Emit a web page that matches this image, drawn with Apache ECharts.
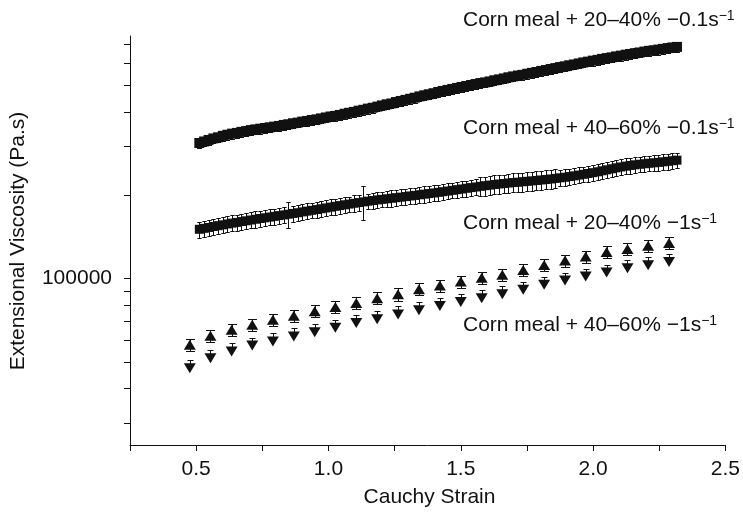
<!DOCTYPE html>
<html>
<head>
<meta charset="utf-8">
<script src="https://cdn.jsdelivr.net/npm/echarts@6/dist/echarts.min.js"></script>
<style>
  html, body { margin: 0; padding: 0; background: #ffffff; }
  #chart { width: 743px; height: 515px; }
</style>
</head>
<body>
<div id="chart"></div>
<script>
// Cauchy strain of the 0.1 s^-1 runs (dense sampling)
const strainSlow = [
  0.512,0.530,0.547,0.565,0.583,0.601,0.618,0.636,0.654,0.671,
  0.689,0.707,0.724,0.742,0.760,0.778,0.795,0.813,0.831,0.848,
  0.866,0.884,0.901,0.919,0.937,0.955,0.972,0.990,1.008,1.025,
  1.043,1.061,1.078,1.096,1.114,1.132,1.149,1.167,1.185,1.202,
  1.220,1.238,1.255,1.273,1.291,1.309,1.326,1.344,1.362,1.379,
  1.397,1.415,1.432,1.450,1.468,1.486,1.503,1.521,1.539,1.556,
  1.574,1.592,1.609,1.627,1.645,1.663,1.680,1.698,1.716,1.733,
  1.751,1.769,1.786,1.804,1.822,1.840,1.857,1.875,1.893,1.910,
  1.928,1.946,1.963,1.981,1.999,2.017,2.034,2.052,2.070,2.087,
  2.105,2.123,2.140,2.158,2.176,2.194,2.211,2.229,2.247,2.264,
  2.282,2.300,2.317
];

// Corn meal + 20–40 %, 0.1 s^-1: extensional viscosity (Pa.s) and its SD
const visc2040Slow = [
  308000,312000,316000,320000,323000,327000,330000,333000,335000,338000,
  340000,343000,345000,347000,349000,351000,353000,355000,358000,360000,
  363000,365000,368000,370000,373000,375000,378000,381000,384000,386000,
  389000,393000,396000,399000,403000,406000,410000,413000,417000,421000,
  425000,428000,433000,437000,441000,445000,449000,454000,458000,462000,
  466000,471000,475000,479000,483000,487000,491000,495000,499000,503000,
  507000,510000,514000,519000,523000,527000,532000,536000,540000,543000,
  548000,552000,556000,561000,565000,570000,574000,579000,583000,588000,
  592000,597000,602000,606000,611000,615000,620000,624000,628000,633000,
  637000,642000,646000,650000,654000,659000,663000,666000,670000,674000,
  678000,682000,685000
];
const err2040Slow = [
  12500,12500,12500,13000,13000,13000,13000,13500,13500,13500,
  13500,13500,14000,14000,14000,14000,14000,14000,14500,14500,
  14500,14500,14500,15000,15000,15000,15000,15000,15500,15500,
  15500,15500,16000,16000,16000,16000,16500,16500,16500,17000,
  17000,17000,17500,17500,17500,18000,18000,18000,18500,18500,
  18500,19000,19000,19000,19500,19500,19500,20000,20000,20000,
  20500,20500,20500,21000,21000,21000,21500,21500,21500,21500,
  22000,22000,22000,22500,22500,23000,23000,23000,23500,23500,
  23500,24000,24000,24000,24500,24500,25000,25000,25000,25500,
  25500,25500,26000,26000,26000,26500,26500,26500,27000,27000,
  27000,27500,27500
];

// Corn meal + 40–60 %, 0.1 s^-1
const visc4060Slow = [
  150300,151500,152600,153800,154900,156000,157100,158200,159200,160300,
  161300,162400,163400,164400,165400,166400,167400,168400,169400,170400,
  171500,172500,173700,174800,176000,177100,178300,179500,180700,181900,
  183100,184300,185400,186600,187700,188800,189900,190900,191900,192800,
  193700,194600,195500,196400,197300,198300,199200,200300,201300,202300,
  203300,204400,205500,206600,207800,209000,210200,211400,212600,213700,
  214900,216000,217100,218100,219100,220000,220900,221700,222400,223200,
  224000,224800,225600,226500,227400,228400,229500,230600,231700,233000,
  234400,235900,237400,239000,240700,242500,244500,246500,248600,250600,
  252400,254100,255600,257000,258200,259200,260300,261300,262300,263400,
  264600,265800,267100
];
const err4060Slow = [
  10000,10000,10000,10000,10000,10500,10500,10500,10500,10500,
  10500,10500,11000,11000,11000,11000,11000,11000,11000,18000,
  11500,11500,11500,11500,11500,11500,12000,12000,12000,12000,
  12000,12000,12000,12500,12500,26000,12500,12500,12500,12500,
  13000,13000,13000,13000,13000,13000,13000,13000,13500,13500,
  13500,13500,13500,13500,13500,14000,14000,14000,14000,14000,
  17000,17000,17000,17000,17000,17000,17500,17500,17500,17500,
  17500,17500,17500,17500,18000,18000,18000,15000,15500,15500,
  15500,15500,15500,16000,16000,16000,16000,16500,16500,16500,
  16500,17000,17000,17000,17000,17000,17000,17000,17500,17500,
  17500,17500,17500
];

// Cauchy strain of the 1 s^-1 runs
const strainFast = [
  0.476,0.554,0.634,0.712,0.790,0.869,0.948,1.026,1.105,1.184,1.263,1.342,
  1.421,1.500,1.579,1.657,1.736,1.815,1.894,1.972,2.051,2.130,2.208,2.287
];
// Corn meal + 20–40 %, 1 s^-1
const visc2040Fast = [
  57500,62000,65200,67900,70800,73300,76000,78800,81400,84700,87500,91300,
  94100,97300,100500,102900,107100,111700,115900,119800,124400,127600,131200,134100
];
const err2040Fast = [
  2900,3100,3300,3400,3500,3700,3800,3900,4100,4200,4400,4600,
  4700,4900,5000,5100,5400,5600,5800,6000,6200,6400,6600,6700
];
// Corn meal + 40–60 %, 1 s^-1 (plus-direction error only)
const visc4060Fast = [
  47300,51400,54400,57200,59100,61600,63800,66300,68900,71100,74000,76600,
  79400,82100,84700,87500,91000,94700,98100,101400,104900,108700,111400,114500
];
const err4060Fast = [
  3300,3500,3800,3900,4100,4300,4400,4600,4800,4900,5100,5300,
  5500,5700,5800,6000,6300,6500,6800,7000,7200,7500,7700,7900
];

// Axis range and tick marks
const strainRange = [0.25, 2.5];
const strainStep = 0.25;
const viscRange = [25000, 750000];
const viscTickValues = [30000, 40000, 50000, 60000, 70000, 80000, 90000, 100000,
                        200000, 300000, 400000, 500000, 600000, 700000];
const viscLabelValues = [100000];

// Curve annotations: [main text, superscript]
const curveLabels = [
  ['Corn meal + 20–40% −0.1s', '−1'],
  ['Corn meal + 40–60% −0.1s', '−1'],
  ['Corn meal + 20–40% −1s', '−1'],
  ['Corn meal + 40–60% −1s', '−1']
];
const xTitle = 'Cauchy Strain';
const yTitle = 'Extensional Viscosity (Pa.s)';

const INK = '#111111';
const FONT = '"Liberation Sans", Arial, Helvetica, sans-serif';
const FS = 21;

const chart = echarts.init(document.getElementById('chart'), null, { renderer: 'canvas' });

function crisp(v) { return Math.round(v) + 0.5; }

function errorBars(xs, ys, errs, capHalf, twoSided) {
  return {
    type: 'custom',
    silent: true,
    clip: false,
    z: 1,
    data: xs.map((x, i) => [x, twoSided ? ys[i] - errs[i] : ys[i], ys[i] + errs[i]]),
    encode: { x: 0, y: [1, 2] },
    renderItem(params, api) {
      const lo = api.coord([api.value(0), api.value(1)]);
      const hi = api.coord([api.value(0), api.value(2)]);
      const x = crisp(lo[0]);
      const yl = crisp(lo[1]);
      const yh = crisp(hi[1]);
      const st = { stroke: INK, lineWidth: 1 };
      const kids = [
        { type: 'line', shape: { x1: x, y1: yl, x2: x, y2: yh }, style: st },
        { type: 'line', shape: { x1: x - capHalf, y1: yh, x2: x + capHalf, y2: yh }, style: st }
      ];
      if (twoSided) {
        kids.push({ type: 'line', shape: { x1: x - capHalf, y1: yl, x2: x + capHalf, y2: yl }, style: st });
      }
      return { type: 'group', children: kids };
    }
  };
}

function markers(name, xs, ys, symbol, size, rotate) {
  return {
    type: 'scatter',
    name: name,
    z: 3,
    silent: true,
    data: xs.map((x, i) => [x, ys[i]]),
    symbol: symbol,
    symbolSize: size,
    symbolRotate: rotate || 0,
    itemStyle: { color: INK, opacity: 1 }
  };
}

// Log-axis tick marks (2..9 x 10^n), drawn outward from the y axis line
const viscTicks = {
  type: 'custom',
  silent: true,
  clip: false,
  z: 4,
  data: viscTickValues.map(v => [strainRange[0], v]),
  encode: { x: 0, y: 1 },
  renderItem(params, api) {
    const p = api.coord([api.value(0), api.value(1)]);
    const y = crisp(p[1]);
    const x = Math.round(p[0]);
    return {
      type: 'line',
      shape: { x1: x - 6, y1: y, x2: x, y2: y },
      style: { stroke: INK, lineWidth: 1 }
    };
  }
};

const labelY = [20, 128, 223, 325];
const labelElements = curveLabels.map((t, i) => ({
  type: 'text',
  x: 463,
  y: labelY[i],
  silent: true,
  style: {
    text: '{m|' + t[0] + '}{s|' + t[1] + '}',
    verticalAlign: 'middle',
    align: 'left',
    fill: INK,
    rich: {
      m: { fontSize: FS, fontFamily: FONT, color: INK },
      s: { fontSize: 14, fontFamily: FONT, color: INK, verticalAlign: 'top' }
    }
  }
}));

const option = {
  animation: false,
  backgroundColor: '#ffffff',
  grid: { left: 130, right: 14, top: 36, bottom: 70, containLabel: false },
  xAxis: {
    type: 'value',
    min: strainRange[0],
    max: strainRange[1],
    interval: strainStep,
    axisLine: { show: true, onZero: false, lineStyle: { color: INK, width: 1 } },
    axisTick: { show: true, inside: false, length: 6, lineStyle: { color: INK, width: 1 } },
    splitLine: { show: false },
    axisLabel: {
      show: true,
      margin: 14,
      fontSize: FS,
      fontFamily: FONT,
      color: INK,
      formatter: v => {
        const k = Math.round(v / 0.5 * 1000) / 1000;
        return (Math.abs(k - Math.round(k)) < 1e-6 && v > 0.3) ? v.toFixed(1) : '';
      }
    }
  },
  yAxis: {
    type: 'log',
    logBase: 10,
    min: viscRange[0],
    max: viscRange[1],
    axisLine: { show: true, onZero: false, lineStyle: { color: INK, width: 1 } },
    axisTick: { show: false },
    splitLine: { show: false },
    minorTick: { show: false },
    axisLabel: {
      show: true,
      margin: 18,
      fontSize: FS,
      fontFamily: FONT,
      color: INK,
      showMinLabel: false,
      showMaxLabel: false,
      formatter: v => {
        for (const t of viscLabelValues) {
          if (Math.abs(v - t) / t < 1e-6) return String(t);
        }
        return '';
      }
    }
  },
  graphic: {
    elements: labelElements.concat([
      {
        type: 'text', x: 18, y: 241, rotation: Math.PI / 2, silent: true,
        style: { text: yTitle, align: 'center', verticalAlign: 'middle',
                 fontSize: FS, fontFamily: FONT, fill: INK }
      },
      {
        type: 'text', x: 429.5, y: 497, silent: true,
        style: { text: xTitle, align: 'center', verticalAlign: 'middle',
                 fontSize: FS, fontFamily: FONT, fill: INK }
      }
    ])
  },
  series: [
    viscTicks,
    errorBars(strainSlow, visc2040Slow, err2040Slow, 2.5, true),
    errorBars(strainSlow, visc4060Slow, err4060Slow, 2.2, true),
    errorBars(strainFast, visc2040Fast, err2040Fast, 4.5, true),
    errorBars(strainFast, visc4060Fast, err4060Fast, 3, false),
    markers('Corn meal + 20–40% −0.1 1/s', strainSlow, visc2040Slow, 'rect', 10),
    markers('Corn meal + 40–60% −0.1 1/s', strainSlow, visc4060Slow, 'rect', 9),
    markers('Corn meal + 20–40% −1 1/s', strainFast, visc2040Fast, 'triangle', [12, 10]),
    markers('Corn meal + 40–60% −1 1/s', strainFast, visc4060Fast, 'triangle', [12, 10], 180)
  ]
};

chart.setOption(option);
</script>
</body>
</html>
